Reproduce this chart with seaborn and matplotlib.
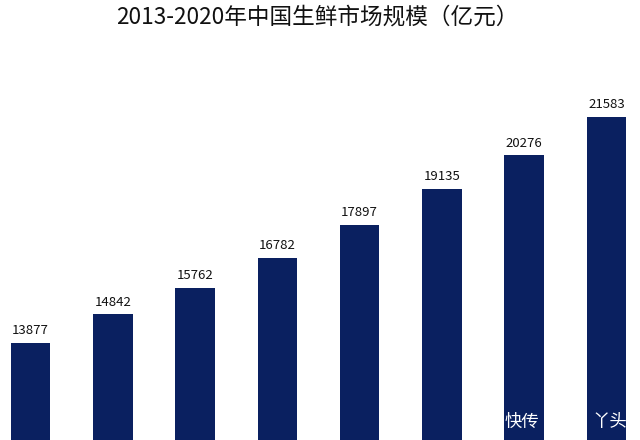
import matplotlib
matplotlib.use("Agg")
import matplotlib.pyplot as plt
import seaborn as sns
import pandas as pd

years = ["2013", "2014", "2015", "2016", "2017", "2018", "2019", "2020"]
values = [13877, 14842, 15762, 16782, 17897, 19135, 20276, 21583]
title = "2013-2020年中国生鲜市场规模（亿元）"

sns.set_style("white")
plt.rcParams['font.family'] = ['Noto Sans CJK SC', 'DejaVu Sans']

df = pd.DataFrame({"year": years, "value": values})

fig = plt.figure(figsize=(6.4, 4.4), dpi=100)
ax = fig.add_axes([0, 0, 1, 0.93])
sns.barplot(data=df, x="year", y="value", color="#0A2060", width=0.48,
            saturation=1, linewidth=0, ax=ax)

ax.set_ylim(10560, 24520)
ax.set_xlim(-0.371, 7.407)
for c in ax.containers:
    ax.bar_label(c, labels=[str(v) for v in values], padding=4,
                 fontsize=9.5, color="#111111")

ax.set_axis_off()
fig.text(0.4965, 0.962, title, ha="center", va="center", fontsize=16.3,
         color="#111111")
fig.text(0.788, 0.04, "快传", ha="left", va="center", fontsize=12.5, color="white")
fig.text(0.925, 0.04, "丫头", ha="left", va="center", fontsize=12.5, color="white")
fig.savefig("out.png", dpi=100)
